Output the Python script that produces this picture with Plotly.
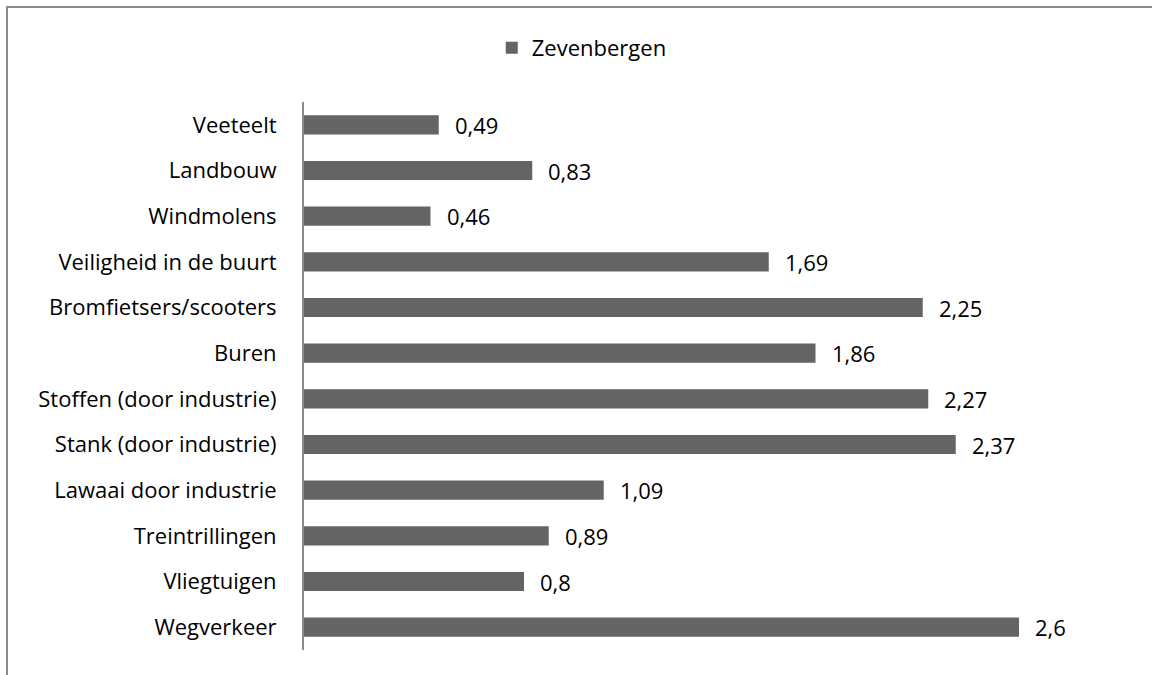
import plotly.graph_objects as go

categories = ["Wegverkeer", "Vliegtuigen", "Treintrillingen", "Lawaai door industrie",
              "Stank (door industrie)", "Stoffen (door industrie)", "Buren",
              "Bromfietsers/scooters", "Veiligheid in de buurt", "Windmolens",
              "Landbouw", "Veeteelt"]
values = [2.6, 0.8, 0.89, 1.09, 2.37, 2.27, 1.86, 2.25, 1.69, 0.46, 0.83, 0.49]
series_name = "Zevenbergen"

FONT = "Open Sans"
FS = 22
W, H = 1152, 675
L, R, T, B = 304, 78, 102, 25
pw, ph = W - L - R, H - T - B

fig = go.Figure()
fig.add_trace(go.Bar(
    y=categories, x=values, orientation="h", name=series_name,
    marker=dict(color="#646464", line=dict(width=0)),
    width=0.42,
))

for c, v in zip(categories, values):
    fig.add_annotation(x=v, y=c, xref="x", yref="y", text=f"{v:g}".replace(".", ","),
                       showarrow=False, xanchor="left", xshift=14,
                       font=dict(family=FONT, size=FS, color="#000000"))

def px(xp):
    return (xp - L) / pw

def py(yp):
    return (H - B - yp) / ph

fig.add_shape(type="path", xref="paper", yref="paper",
              path=f"M {px(7)} {py(680)} L {px(7)} {py(7)} L {px(1160)} {py(7)}",
              line=dict(color="#8c8c8c", width=2))

fig.update_layout(
    width=W, height=H,
    margin=dict(l=L, r=R, t=T, b=B),
    plot_bgcolor="white", paper_bgcolor="white",
    separators=",.",
    showlegend=True,
    legend=dict(orientation="h", xref="container", yref="container",
                x=0.505, xanchor="center", y=1 - 48 / H, yanchor="middle",
                font=dict(family=FONT, size=FS, color="#000000"),
                itemwidth=30),
    xaxis=dict(range=[0, 2.8], showgrid=False, showticklabels=False, zeroline=False,
               showline=False, fixedrange=True),
    yaxis=dict(showgrid=False, showline=True, linecolor="#8c8c8c", linewidth=2,
               ticks="", ticklabelstandoff=21,
               tickfont=dict(family=FONT, size=FS, color="#000000"),
               range=[-0.5, len(categories) - 0.5]),
)

fig.write_html("out.html", config={"displayModeBar": False},
               post_script="document.body.style.margin='0px';")
